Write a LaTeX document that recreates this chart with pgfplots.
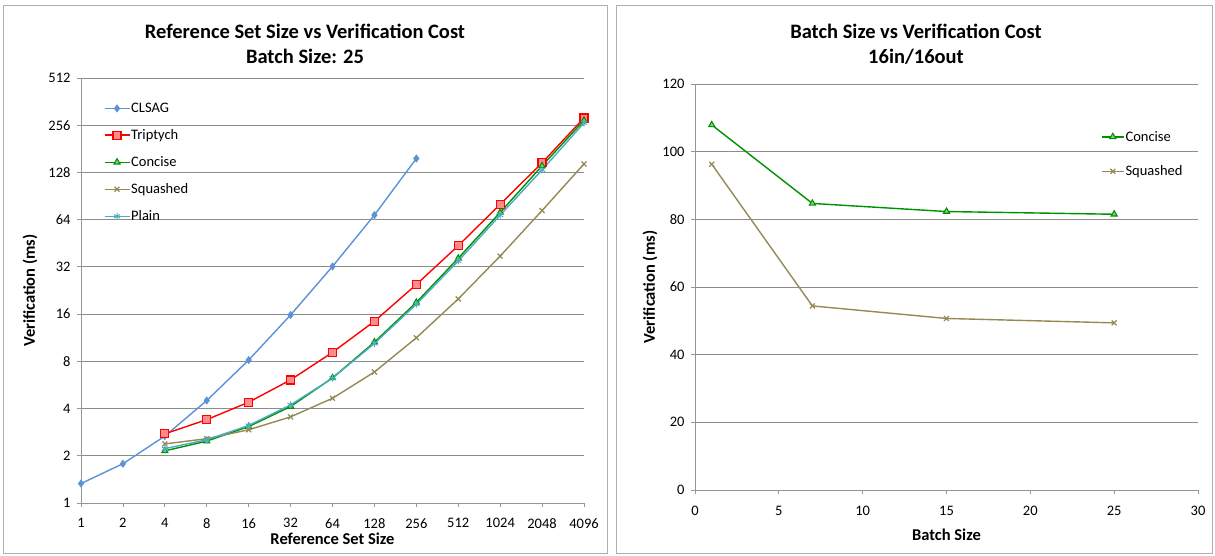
\documentclass[border=0pt]{standalone}
\usepackage{fontspec}
\setmainfont{Carlito}
\usepackage{pgfplots}
\pgfplotsset{compat=1.18}
\definecolor{clsag}{RGB}{92,146,214}
\definecolor{trip}{RGB}{255,0,0}
\definecolor{conc}{RGB}{0,145,0}
\definecolor{squa}{RGB}{148,138,84}
\definecolor{plain}{RGB}{75,172,198}
\definecolor{gridc}{RGB}{140,140,140}
\definecolor{axc}{RGB}{150,150,150}
\definecolor{framec}{RGB}{175,175,175}
\pgfplotsset{
  common/.style={
    scale only axis,
    axis lines*=left,
    axis line style={axc, line width=0.8pt},
    tick style={axc, line width=0.8pt},
    tick align=outside,
    major tick length=4pt,
    ymajorgrids,
    grid style={gridc, line width=0.8pt},
    /pgf/number format/assume math mode=true,
    tick label style={font=\fontsize{14.5}{17}\selectfont, text=black},
    yticklabel style={xshift=-3pt},
    label style={font=\bfseries\fontsize{16.5}{19}\selectfont},
    clip=false,
    legend cell align=left,
  },
}
\begin{document}
\begin{tikzpicture}[x=1pt,y=1pt]
\path (0,0) rectangle (1215,556);
\draw[framec, line width=0.8pt] (3,3) rectangle (607,551);
\draw[framec, line width=0.8pt] (616,3) rectangle (1212,551);
\node[font=\bfseries\fontsize{20.5}{25}\selectfont, align=center] at (305,512) {Reference Set Size vs Verification Cost\\Batch Size: 25};
\node[font=\bfseries\fontsize{20.5}{25}\selectfont, align=center] at (916,512) {Batch Size vs Verification Cost\\16in/16out};
\begin{axis}[common,
  at={(81pt,53pt)}, anchor=south west,
  width=503pt, height=425pt,
  xmode=log, log basis x=2, ymode=log, log basis y=2,
  xmin=1, xmax=4096, ymin=1, ymax=512,
  xtick={1,2,4,8,16,32,64,128,256,512,1024,2048,4096},
  xticklabels={1,2,4,8,16,32,64,128,256,512,1024,2048,4096},
  ytick={1,2,4,8,16,32,64,128,256,512},
  yticklabels={1,2,4,8,16,32,64,128,256,512},
  xticklabel style={yshift=-8pt},
  xlabel={Reference Set Size},
  ylabel={Verification (ms)},
  xlabel style={at={(axis description cs:0.5,0)}, anchor=center, yshift=-36pt},
  ylabel style={at={(axis description cs:-0.1014,0.5)}, anchor=center},
  legend style={at={(0.045,0.944)}, anchor=north west, draw=none, fill=none,
    font=\fontsize{14.5}{17}\selectfont, row sep=13.5pt, inner sep=0pt,
    nodes={inner sep=1pt}},
  legend image code/.code={\draw[mark repeat=2,mark phase=2,#1] plot coordinates {(0pt,0pt) (12.5pt,0pt) (25pt,0pt)};},
]
\addplot[clsag, line width=1.4pt, mark=diamond*, mark size=3pt, mark options={fill=clsag}] coordinates {
(1,1.33) (2,1.78) (4,2.67) (8,4.50) (16,8.15) (32,15.8) (64,32.2) (128,68.5) (256,157)};
\addlegendentry{CLSAG}
\addplot[trip, line width=1.4pt, mark=square*, mark size=4pt, mark options={fill=trip!45!white, draw=trip, line width=1.2pt}] coordinates {
(4,2.76) (8,3.40) (16,4.39) (32,6.09) (64,9.13) (128,14.4) (256,24.7) (512,43.7) (1024,80.1) (2048,147.5) (4096,285)};
\addlegendentry{Triptych}
\addplot[conc, line width=1.4pt, mark=triangle*, mark size=3.5pt, mark options={fill=conc!45!white, draw=conc, line width=1.1pt}] coordinates {
(4,2.15) (8,2.48) (16,3.07) (32,4.12) (64,6.27) (128,10.6) (256,19.0) (512,36.3) (1024,71.2) (2048,141) (4096,275)};
\addlegendentry{Concise}
\addplot[squa, line width=1.4pt, mark=x, mark size=3.5pt, mark options={line width=1.2pt}] coordinates {
(4,2.38) (8,2.57) (16,2.93) (32,3.54) (64,4.65) (128,6.84) (256,11.3) (512,20.0) (1024,37.5) (2048,73.2) (4096,145)};
\addlegendentry{Squashed}
\addplot[plain, line width=1.4pt, mark=asterisk, mark size=3.5pt, mark options={line width=1pt}] coordinates {
(4,2.22) (8,2.53) (16,3.12) (32,4.22) (64,6.25) (128,10.4) (256,18.5) (512,34.9) (1024,68.4) (2048,133) (4096,265)};
\addlegendentry{Plain}
\end{axis}
\begin{axis}[common,
  at={(695pt,66pt)}, anchor=south west,
  width=503pt, height=406pt,
  xmin=0, xmax=30, ymin=0, ymax=120,
  xtick={0,5,...,30}, ytick={0,20,...,120},
  xticklabel style={yshift=-9pt},
  xlabel={Batch Size},
  ylabel={Verification (ms)},
  xlabel style={at={(axis description cs:0.5,0)}, anchor=center, yshift=-45pt},
  ylabel style={at={(axis description cs:-0.0895,0.5)}, anchor=center},
  legend style={at={(0.807,0.887)}, anchor=north west, draw=none, fill=none,
    font=\fontsize{14.5}{17}\selectfont, row sep=21pt, inner sep=0pt,
    nodes={inner sep=1pt}},
  legend image code/.code={\draw[mark repeat=2,mark phase=2,#1] plot coordinates {(0pt,0pt) (11pt,0pt) (22pt,0pt)};},
]
\addplot[conc, line width=1.4pt, mark=triangle*, mark size=3.5pt, mark options={fill=conc!45!white, draw=conc, line width=1.1pt}] coordinates {
(1,107.9) (7,84.7) (15,82.3) (25,81.5)};
\addlegendentry{Concise}
\addplot[squa, line width=1.4pt, mark=x, mark size=3.5pt, mark options={line width=1.2pt}] coordinates {
(1,96.3) (7,54.4) (15,50.7) (25,49.4)};
\addlegendentry{Squashed}
\end{axis}
\end{tikzpicture}
\end{document}
